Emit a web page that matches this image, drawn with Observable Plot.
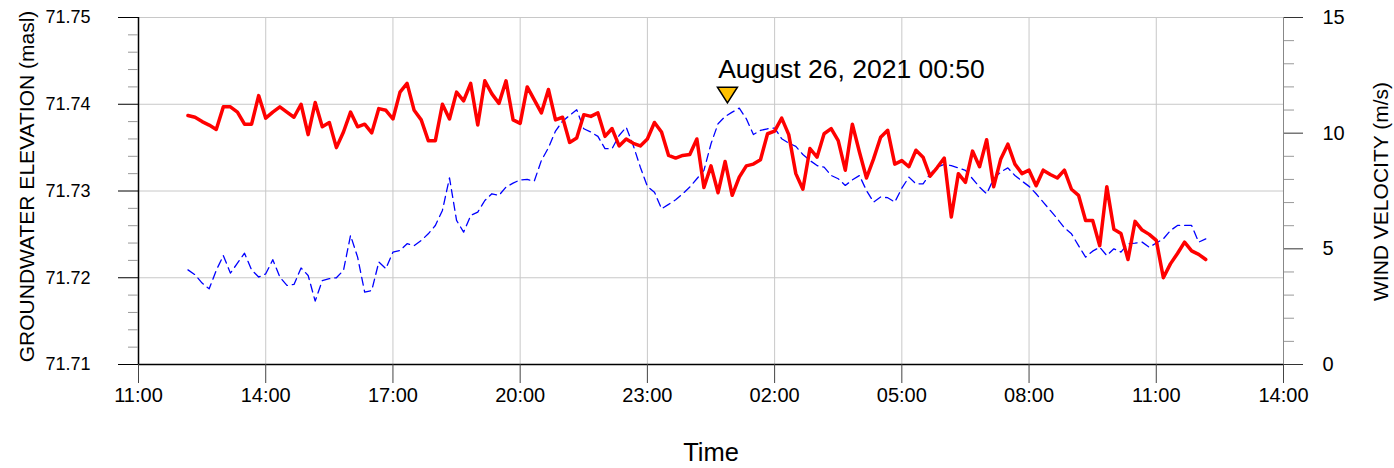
<!DOCTYPE html>
<html><head><meta charset="utf-8">
<script src="https://cdn.jsdelivr.net/npm/d3@7"></script>
<script src="https://cdn.jsdelivr.net/npm/@observablehq/plot@0.6"></script>
<style>html,body{margin:0;padding:0;background:#fff;} #chart{width:1394px;height:468px;}</style>
</head><body><div id="chart"></div>
<script>
// ---- data ----
const startTime = "2021-08-25T12:10:00Z";
const stepMinutes = 10;
const groundwater = [
71.7387,71.7385,71.7380,71.7376,71.7371,71.7397,71.7397,71.7391,71.7377,71.7377,
71.7410,71.7384,71.7391,71.7397,71.7391,71.7385,71.7400,71.7365,71.7402,71.7374,
71.7379,71.7350,71.7368,71.7391,71.7374,71.7377,71.7367,71.7395,71.7393,71.7383,
71.7414,71.7424,71.7393,71.7382,71.7358,71.7358,71.7400,71.7383,71.7414,71.7404,
71.7424,71.7376,71.7427,71.7412,71.7401,71.7427,71.7382,71.7378,71.7420,71.7405,
71.7390,71.7417,71.7382,71.7385,71.7356,71.7361,71.7388,71.7386,71.7390,71.7363,
71.7372,71.7352,71.7360,71.7355,71.7352,71.7360,71.7379,71.7368,71.7341,71.7338,
71.7341,71.7342,71.7360,71.7304,71.7329,71.7298,71.7334,71.7295,71.7316,71.7329,
71.7331,71.7336,71.7366,71.7369,71.7384,71.7365,71.7320,71.7302,71.7349,71.7339,
71.7366,71.7372,71.7358,71.7324,71.7377,71.7345,71.7315,71.7337,71.7362,71.7370,
71.7331,71.7335,71.7328,71.7347,71.7339,71.7317,71.7327,71.7338,71.7270,71.7320,
71.7310,71.7346,71.7328,71.7359,71.7305,71.7337,71.7354,71.7331,71.7320,71.7324,
71.7306,71.7324,71.7319,71.7315,71.7324,71.7302,71.7295,71.7266,71.7266,71.7237,
71.7305,71.7256,71.7251,71.7221,71.7265,71.7255,71.7250,71.7243,71.7200,71.7216,
71.7228,71.7241,71.7231,71.7227,71.7221];
const wind = [
4.09,3.88,3.52,3.27,4.07,4.71,3.95,4.38,4.81,4.09,
3.78,3.92,4.53,3.78,3.42,3.46,4.17,3.85,2.74,3.63,
3.71,3.75,4.07,5.58,4.64,3.13,3.20,4.43,4.14,4.86,
4.93,5.22,5.14,5.36,5.65,6.01,6.66,8.07,6.23,5.72,
6.44,6.59,7.09,7.38,7.31,7.67,7.84,7.98,8.00,7.93,
8.82,9.37,10.09,10.52,10.77,11.01,10.19,10.05,9.86,9.33,
9.33,9.90,10.26,9.47,8.53,7.70,7.45,6.73,6.92,7.12,
7.38,7.67,8.03,8.39,9.54,10.41,10.72,10.91,11.08,10.62,
9.94,10.12,10.19,10.22,9.76,9.57,9.43,9.08,8.82,8.60,
8.53,8.17,8.03,7.74,7.98,8.17,7.52,7.02,7.24,7.21,
7.02,7.62,8.10,7.81,7.81,8.24,8.53,8.65,8.60,8.50,
8.39,8.03,7.67,7.38,8.03,8.32,8.50,8.17,7.93,7.70,
7.38,7.02,6.66,6.30,5.91,5.65,5.14,4.64,4.90,5.07,
4.71,5.00,4.86,5.22,5.25,5.29,5.07,5.25,5.43,5.79,
6.01,6.01,6.01,5.29,5.43];
const xTicks = ["2021-08-25T11:00:00Z","2021-08-25T14:00:00Z","2021-08-25T17:00:00Z","2021-08-25T20:00:00Z","2021-08-25T23:00:00Z",
                "2021-08-26T02:00:00Z","2021-08-26T05:00:00Z","2021-08-26T08:00:00Z","2021-08-26T11:00:00Z","2021-08-26T14:00:00Z"];
const xTickLabels = ["11:00","14:00","17:00","20:00","23:00","02:00","05:00","08:00","11:00","14:00"];
const yTicks = [71.71, 71.72, 71.73, 71.74, 71.75];
const windTicks = [0, 5, 10, 15];
const annotations = [{time: "2021-08-26T00:50:00Z", label: "August 26, 2021 00:50"}];
const yDomain = [71.71, 71.75];
const windDomain = [0, 15];
const leftTitle = "GROUNDWATER ELEVATION (masl)";
const rightTitle = "WIND VELOCITY (m/s)";
const xTitle = "Time";

// ---- derived ----
const t0 = new Date(startTime);
const times = groundwater.map((_, i) => new Date(+t0 + i * stepMinutes * 60000));
const toY = d3.scaleLinear(windDomain, yDomain);
const gwData = groundwater.map((v, i) => ({t: times[i], v}));
const windData = wind.map((w, i) => ({t: times[i], y: toY(w)}));
const xTickDates = xTicks.map(d => new Date(d));
const xDomain = [xTickDates[0], xTickDates[xTickDates.length - 1]];
const labelOf = new Map(xTickDates.map((d, i) => [+d, xTickLabels[i]]));
const leftMinor = d3.range(0, 21).filter(i => i % 5).map(i => yDomain[0] + i * 0.002);
const rightMinor = d3.range(0, 16).filter(i => i % 5).map(i => toY(i));
const annData = annotations.map(a => ({t: new Date(a.time), label: a.label}));

const downTriangle = {
  draw(context, size) {
    const r = Math.sqrt(size / Math.PI), h = 0.78 * r;
    context.moveTo(-r, -h); context.lineTo(r, -h); context.lineTo(0, h); context.closePath();
  }
};

const grid = "#c8c8c8";
const chart = Plot.plot({
  width: 1394, height: 468,
  marginLeft: 138, marginRight: 111, marginTop: 17, marginBottom: 104,
  style: {fontFamily: "'Liberation Sans', Arial, sans-serif", fontSize: "20px", background: "white", color: "black"},
  x: {type: "utc", domain: xDomain, axis: null},
  y: {domain: yDomain, axis: null},
  marks: [
    Plot.gridY(yTicks.slice(1, -1), {stroke: grid, strokeOpacity: 1}),
    Plot.gridX(xTickDates.slice(1, -1), {stroke: grid, strokeOpacity: 1}),
    Plot.ruleY([yDomain[1]], {stroke: grid}),
    Plot.ruleX([xDomain[1]], {stroke: "#888"}),
    Plot.line(windData, {x: "t", y: "y", stroke: "#0000ff", strokeWidth: 1.3, strokeDasharray: "8,5"}),
    Plot.line(gwData, {x: "t", y: "v", stroke: "#ff0000", strokeWidth: 3.5, strokeLinejoin: "round"}),
    Plot.ruleX([xDomain[0]], {stroke: "black", strokeWidth: 1.5}),
    Plot.ruleY([yDomain[0]], {stroke: "black", strokeWidth: 1.5}),
    Plot.axisY(leftMinor, {anchor: "left", tickSize: 10, stroke: "#999", fill: "none", label: null}),
    Plot.axisY(yTicks, {anchor: "left", tickSize: 20, tickPadding: 28, tickFormat: d => d.toFixed(2), fontSize: 18, stroke: "black", fill: "black", label: null}),
    Plot.axisY(rightMinor, {anchor: "right", tickSize: 10, stroke: "#999", fill: "none", label: null}),
    Plot.axisY(windTicks.map(toY), {anchor: "right", tickSize: 19, tickPadding: 20, tickFormat: d => String(Math.round(toY.invert(d))), fontSize: 20, stroke: "#333", fill: "black", label: null}),
    Plot.axisX(xTickDates, {anchor: "bottom", tickSize: 19, tickPadding: 4, tickFormat: d => labelOf.get(+d), fontSize: 20, stroke: "#444", fill: "black", label: null}),
    Plot.dot(annData, {x: "t", frameAnchor: "top", dy: 77.5, dx: 2.3, symbol: downTriangle, r: 10, fill: "#FFC000", stroke: "black", strokeWidth: 1.5}),
    Plot.text(annData, {x: "t", text: "label", frameAnchor: "top", dy: 60, dx: -7, textAnchor: "start", lineAnchor: "bottom", fontSize: 26.5, fill: "black"}),
    Plot.text([leftTitle], {text: d => d, frameAnchor: "left", rotate: -90, dx: -111, dy: -4.5, textAnchor: "middle", lineAnchor: "middle", fontSize: 21, fill: "black"}),
    Plot.text([rightTitle], {text: d => d, frameAnchor: "right", rotate: -90, dx: 98, dy: 0.5, textAnchor: "middle", lineAnchor: "middle", fontSize: 21, fill: "black"}),
    Plot.text([xTitle], {text: d => d, frameAnchor: "bottom", dy: 88, textAnchor: "middle", lineAnchor: "middle", fontSize: 25.5, fill: "black"})
  ]
});
document.getElementById("chart").appendChild(chart);
</script>
</body></html>
